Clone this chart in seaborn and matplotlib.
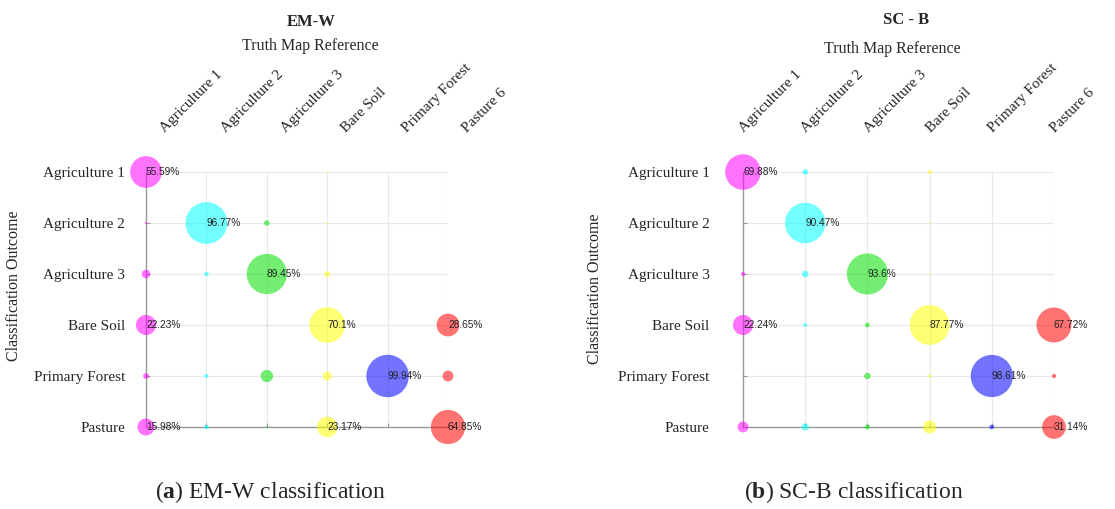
import numpy as np
import pandas as pd
import matplotlib
matplotlib.use("Agg")
import matplotlib.pyplot as plt
import matplotlib.transforms as mtransforms
import seaborn as sns

# ---------------- data ----------------
truth_labels = ["Agriculture 1", "Agriculture 2", "Agriculture 3", "Bare Soil", "Primary Forest", "Pasture 6"]
outcome_labels = ["Agriculture 1", "Agriculture 2", "Agriculture 3", "Bare Soil", "Primary Forest", "Pasture"]
column_colors = ["#ff00ff", "#00ffff", "#00e000", "#ffff00", "#0000ff", "#ff0000"]

# rows = classification outcome, columns = truth map reference (percent)
emw_values = [
    [55.59, 0.0,   0.0,   0.2,   0.0,   0.0],
    [0.3,   96.77, 1.75,  0.2,   0.0,   0.0],
    [4.0,   1.1,   89.45, 1.95,  0.0,   0.0],
    [22.23, 0.0,   0.1,   70.1,  0.0,   28.65],
    [1.9,   0.9,   8.5,   4.4,   99.94, 6.5],
    [15.98, 1.2,   0.2,   23.17, 0.0,   64.85],
]
scb_values = [
    [69.88, 1.75,  0.0,   0.87,  0.0,   0.0],
    [0.0,   90.47, 0.0,   0.1,   0.0,   0.0],
    [1.0,   2.4,   93.6,  0.1,   0.0,   0.0],
    [22.24, 0.87,  1.35,  87.77, 0.0,   67.72],
    [0.1,   0.0,   2.4,   0.6,   98.61, 1.0],
    [6.5,   2.9,   1.5,   9.6,   1.2,   31.14],
]
panel_titles = ["EM-W", "SC - B"]
caption_letters = ["a", "b"]
caption_texts = [" EM-W classification", " SC-B classification"]
x_title = "Truth Map Reference"
y_title = "Classification Outcome"
label_threshold = 10.0


def long_table(matrix):
    rows = []
    for i, out in enumerate(outcome_labels):
        for j, tr in enumerate(truth_labels):
            v = matrix[i][j]
            if v > 0:
                rows.append({"xi": j, "yi": i, "truth": tr, "outcome": out, "value": v})
    return pd.DataFrame(rows)


sns.set_style("white")
plt.rcParams["font.family"] = ["Liberation Serif", "DejaVu Serif"]
plt.rcParams["mathtext.fontset"] = "custom"
plt.rcParams["mathtext.rm"] = "Liberation Serif"
plt.rcParams["mathtext.bf"] = "Liberation Serif:bold"

fig = plt.figure(figsize=(11.15, 5.09), dpi=100)
W, H = 1115, 509

# axes pixel geometry (left, right, top, bottom)
geoms = [(146, 448, 172, 427), (743, 1054, 172, 427)]
xlab_offsets_px = [19, 1]
ytick_pads = [15, 24]
title_pos = [(0.546, 1.588), (0.524, 1.598)]
xt_pos = [(0.543, 1.494), (0.479, 1.482)]
yl_pos = [(-0.411, 0.553), (-0.450, 0.543)]
caption_pos = [(271, 492), (854, 492)]

grid_c = "#e8e8e8"
spine_c = "#9a9a9a"

for k, matrix in enumerate([emw_values, scb_values]):
    l, r, t, b = geoms[k]
    ax = fig.add_axes([l / W, (H - b) / H, (r - l) / W, (b - t) / H])
    df = long_table(matrix)
    sns.scatterplot(
        data=df, x="xi", y="yi", hue="truth", hue_order=truth_labels,
        palette=column_colors, size="value", sizes=(0, 936), size_norm=(0, 100),
        alpha=0.55, linewidth=0, legend=False, ax=ax, clip_on=False, zorder=3,
    )
    for _, row in df.iterrows():
        if row["value"] >= label_threshold:
            ax.text(row["xi"], row["yi"], f"{row['value']:g}%", ha="left", va="center",
                    fontsize=7.3, family="Liberation Sans", color="#222222", zorder=4,
                    clip_on=False)

    ax.set_xlim(0, 5)
    ax.set_ylim(5, 0)
    ax.set_xticks(range(len(truth_labels)))
    ax.set_yticks(range(len(outcome_labels)))
    ax.set_xticklabels(truth_labels, rotation=45, ha="left", va="baseline",
                       rotation_mode="anchor", fontsize=11)
    ax.set_yticklabels(outcome_labels, fontsize=11)
    ax.tick_params(axis="x", bottom=True, top=False, labelbottom=False, labeltop=True,
                   direction="in", length=3, color=spine_c, pad=28)
    ax.tick_params(axis="y", left=True, right=False, direction="in", length=3,
                   color=spine_c, pad=ytick_pads[k])
    off = mtransforms.ScaledTranslation(xlab_offsets_px[k] / 100, 0, fig.dpi_scale_trans)
    for lab in ax.get_xticklabels():
        lab.set_transform(lab.get_transform() + off)

    ax.grid(True, color=grid_c, linewidth=0.8, zorder=0)
    ax.set_axisbelow(True)
    for s in ["top", "right"]:
        ax.spines[s].set_visible(False)
    for s in ["left", "bottom"]:
        ax.spines[s].set_color(spine_c)
        ax.spines[s].set_linewidth(1.0)
        ax.spines[s].set_zorder(2.5)

    ax.set_xlabel("")
    ax.set_ylabel(y_title, fontsize=11.5)
    ax.yaxis.set_label_coords(*yl_pos[k])
    ax.text(*title_pos[k], panel_titles[k], transform=ax.transAxes, ha="center",
            va="center", fontsize=12, fontweight="bold")
    ax.text(*xt_pos[k], x_title, transform=ax.transAxes, ha="center", va="center",
            fontsize=11.5)

    cx, cy = caption_pos[k]
    fig.text(cx / W, 1 - cy / H,
             r"(" + r"$\mathbf{" + caption_letters[k] + r"}$" + ")" + caption_texts[k],
             ha="center", va="center", fontsize=17)

fig.savefig("out.png", dpi=100)
